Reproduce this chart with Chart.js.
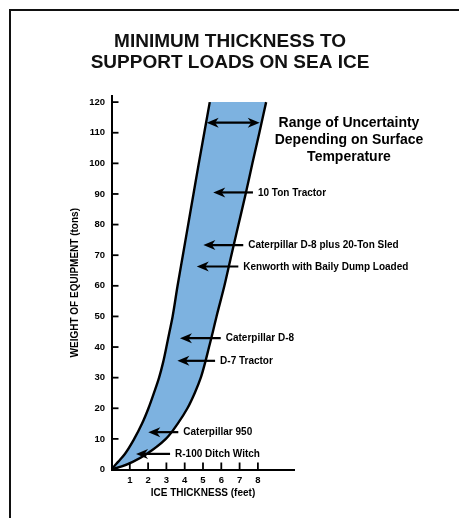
<!DOCTYPE html>
<html>
<head>
<meta charset="utf-8">
<script src="https://cdn.jsdelivr.net/npm/chart.js@4.4.0/dist/chart.umd.min.js"></script>
<style>
  html, body { margin: 0; padding: 0; background: #fff; }
  canvas { display: block; }
</style>
</head>
<body>
<canvas id="iceChart" width="459" height="518"></canvas>
<script>
// band edges: weight (tons) -> ice thickness (feet)
const weights = [0, 1, 2.5, 5, 10, 15, 20, 25, 30, 35, 40, 45, 50, 60, 70, 80, 90, 100, 110, 120];
const thinEdge = [0, 0.14, 0.36, 0.72, 1.24, 1.67, 2.02, 2.32, 2.6, 2.82, 3.0, 3.17, 3.34, 3.61, 3.9, 4.19, 4.48, 4.77, 5.07, 5.37];
const thickEdge = [0, 0.56, 1.16, 1.9, 2.97, 3.62, 4.15, 4.55, 4.88, 5.12, 5.33, 5.54, 5.74, 6.17, 6.55, 6.94, 7.33, 7.7, 8.08, 8.45];

const yTicks = [0, 10, 20, 30, 40, 50, 60, 70, 80, 90, 100, 110, 120];
const xTicks = [1, 2, 3, 4, 5, 6, 7, 8];

// labelled loads (arrow from tail to tip, at the given weight)
const loadNames = ['10 Ton Tractor', 'Caterpillar D-8 plus 20-Ton Sled', 'Kenworth with Baily Dump Loaded', 'Caterpillar D-8', 'D-7 Tractor', 'Caterpillar 950', 'R-100 Ditch Witch'];
const loadWeights = [90.5, 73.3, 66.3, 42.9, 35.5, 12.2, 5.1];
const arrowTips = [5.56, 5.02, 4.66, 3.74, 3.6, 2.01, 1.34];
const arrowTails = [7.73, 7.2, 6.93, 5.97, 5.66, 3.65, 3.2];

const rangeWeight = 113.3;
const rangeFrom = 5.2;
const rangeTo = 8.1;
const rangeText = ['Range of Uncertainty', 'Depending on Surface', 'Temperature'];

const FONT = "'Liberation Sans', Arial, Helvetica, sans-serif";
Chart.defaults.font.family = FONT;
Chart.defaults.color = '#000';

function arrowHead(ctx, x, y, dir) {
    ctx.beginPath();
    ctx.moveTo(x, y);
    ctx.lineTo(x - dir * 12, y - 5);
    ctx.lineTo(x - dir * 8.5, y);
    ctx.lineTo(x - dir * 12, y + 5);
    ctx.closePath();
    ctx.fill();
}

const sheetDecor = {
    id: 'sheetDecor',
    beforeDraw(chart) {
        const ctx = chart.ctx;
        ctx.save();
        ctx.strokeStyle = '#111';
        ctx.lineWidth = 2;
        ctx.strokeRect(10, 10, 480, 540);
        ctx.restore();
    },
    afterDatasetsDraw(chart) {
        const { ctx, scales: { x, y }, chartArea } = chart;
        ctx.save();
        ctx.strokeStyle = '#000';
        ctx.fillStyle = '#000';
        ctx.lineWidth = 1.8;

        // inward tick marks
        yTicks.forEach(v => {
            const py = y.getPixelForValue(v);
            ctx.beginPath();
            ctx.moveTo(chartArea.left, py);
            ctx.lineTo(chartArea.left + 7, py);
            ctx.stroke();
        });
        xTicks.forEach(v => {
            const px = x.getPixelForValue(v);
            ctx.beginPath();
            ctx.moveTo(px, chartArea.bottom);
            ctx.lineTo(px, chartArea.bottom - 7);
            ctx.stroke();
        });

        // load arrows
        ctx.lineWidth = 2.2;
        ctx.font = 'bold 10px ' + FONT;
        ctx.textBaseline = 'middle';
        ctx.textAlign = 'left';
        loadNames.forEach((name, i) => {
            const py = y.getPixelForValue(loadWeights[i]);
            const tip = x.getPixelForValue(arrowTips[i]);
            const tail = x.getPixelForValue(arrowTails[i]);
            ctx.beginPath();
            ctx.moveTo(tail, py);
            ctx.lineTo(tip + 8, py);
            ctx.stroke();
            arrowHead(ctx, tip, py, -1);
            ctx.fillText(name, tail + 5, py + 0.5);
        });

        // range double arrow
        const ry = y.getPixelForValue(rangeWeight);
        const r0 = x.getPixelForValue(rangeFrom);
        const r1 = x.getPixelForValue(rangeTo);
        ctx.beginPath();
        ctx.moveTo(r0 + 8, ry);
        ctx.lineTo(r1 - 8, ry);
        ctx.stroke();
        arrowHead(ctx, r0, ry, -1);
        arrowHead(ctx, r1, ry, 1);

        ctx.font = 'bold 14px ' + FONT;
        ctx.textAlign = 'center';
        rangeText.forEach((t, i) => {
            ctx.fillText(t, chartArea.right + 54.5, ry + 0.5 + i * 17);
        });
        ctx.restore();
    }
};

const ctx = document.getElementById('iceChart').getContext('2d');
new Chart(ctx, {
    type: 'line',
    data: {
        datasets: [
            {
                data: weights.map((w, i) => ({ x: thinEdge[i], y: w })),
                borderColor: '#000',
                borderWidth: 2.4,
                backgroundColor: '#7DB2E0',
                fill: '+1',
                pointRadius: 0,
                cubicInterpolationMode: 'monotone'
            },
            {
                data: weights.map((w, i) => ({ x: thickEdge[i], y: w })),
                borderColor: '#000',
                borderWidth: 2.4,
                fill: false,
                pointRadius: 0,
                cubicInterpolationMode: 'monotone'
            }
        ]
    },
    options: {
        responsive: false,
        animation: false,
        indexAxis: 'y',
        layout: { padding: { left: 10, right: 9, top: 0, bottom: 0 } },
        plugins: {
            filler: { drawTime: 'beforeDatasetsDraw' },
            legend: { display: false },
            tooltip: { enabled: false },
            title: {
                display: true,
                text: ['MINIMUM THICKNESS TO', 'SUPPORT LOADS ON SEA ICE'],
                color: '#111',
                font: { size: 19, weight: 'bold', lineHeight: 1.1 },
                padding: { top: 31.5, bottom: 22.7 }
            }
        },
        scales: {
            x: {
                type: 'linear',
                min: 0,
                max: 10,
                afterBuildTicks: s => { s.ticks = xTicks.map(v => ({ value: v })); },
                afterFit: s => { s.height = 48.5; },
                grid: { display: false, drawTicks: false },
                border: { display: true, color: '#000', width: 2 },
                ticks: { font: { size: 9.5, weight: 'bold' }, padding: 5, maxRotation: 0, autoSkip: false },
                title: {
                    display: true,
                    text: 'ICE THICKNESS (feet)',
                    font: { size: 10, weight: 'bold' },
                    padding: { top: 0, bottom: 19 }
                }
            },
            y: {
                type: 'linear',
                min: 0,
                max: 122,
                afterBuildTicks: s => { s.ticks = yTicks.map(v => ({ value: v })); },
                afterFit: s => { s.width = 101.5; },
                grid: { display: false, drawTicks: false },
                border: { display: true, color: '#000', width: 2 },
                ticks: { font: { size: 9.5, weight: 'bold' }, padding: 6.5, autoSkip: false },
                title: {
                    display: true,
                    text: 'WEIGHT OF EQUIPMENT (tons)',
                    font: { size: 10, weight: 'bold' },
                    padding: { top: 59, bottom: 0 }
                }
            },
            spacer: {
                type: 'linear',
                position: 'right',
                display: true,
                grid: { display: false, drawTicks: false },
                border: { display: false },
                ticks: { display: false },
                afterFit: s => { s.width = 155.5; }
            }
        }
    },
    plugins: [sheetDecor]
});
</script>
</body>
</html>
